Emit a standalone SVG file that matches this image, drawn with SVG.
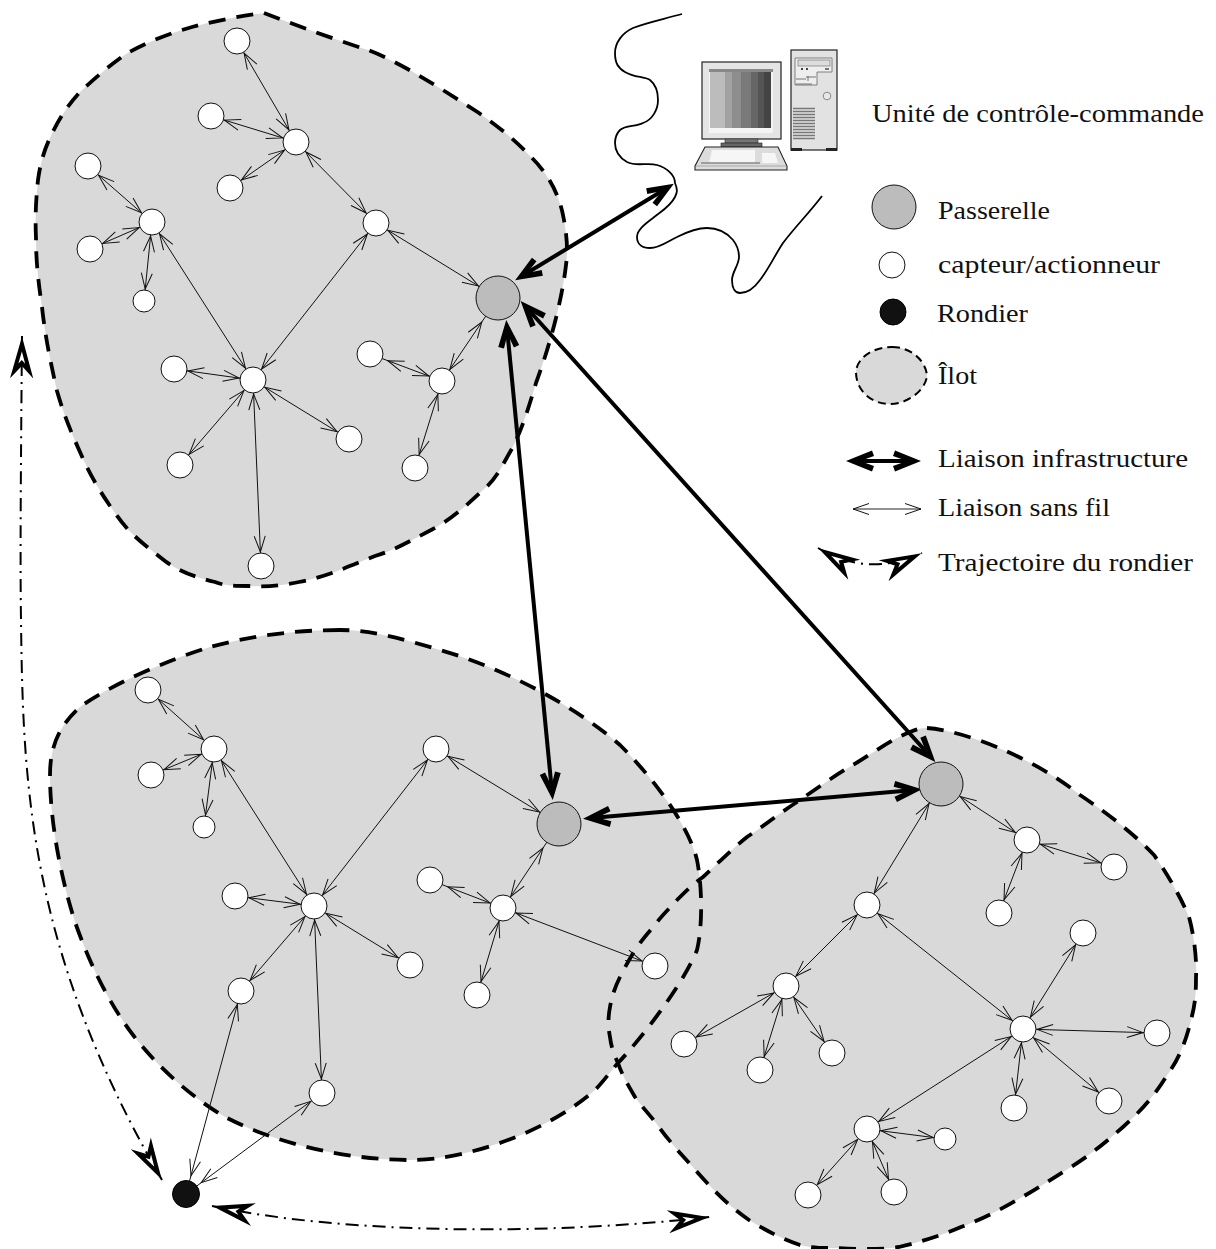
<svg xmlns="http://www.w3.org/2000/svg" width="1216" height="1249" viewBox="0 0 1216 1249">
<style>
text{font-family:"Liberation Serif","DejaVu Serif",serif;font-size:25px;fill:#111}
.isl{fill:#d9d9d9;stroke:none}
.dash{fill:none;stroke:#000;stroke-width:3.8;stroke-dasharray:17 11}
.n{fill:#fff;stroke:#111;stroke-width:1}
.gw{fill:#bcbcbc;stroke:#111;stroke-width:1}
.w{stroke:#111;stroke-width:1;fill:none;marker-start:url(#w13);marker-end:url(#w13)}
.e11{marker-end:url(#w11)}
.e22{marker-end:url(#w22)}
.e29{marker-end:url(#w29)}
.s22{marker-start:url(#w22)}
.s18{marker-start:url(#w18)}
.s14{marker-start:url(#w14)}
.t{stroke:#000;stroke-width:4;fill:none;marker-start:url(#th);marker-end:url(#th)}
.tr{stroke:#000;stroke-width:2;fill:none;stroke-dasharray:13 6 2 6;marker-start:url(#hollow);marker-end:url(#hollow)}
.vp{fill:none;stroke:#111;stroke-width:1}
.thp{fill:#000;stroke:none}
.hp{fill:#fff;stroke:#000;stroke-width:4;stroke-linejoin:miter;stroke-miterlimit:10}
</style>
<defs>
<marker id="w11" markerUnits="userSpaceOnUse" orient="auto-start-reverse" refX="12" refY="0" markerWidth="1" markerHeight="1" overflow="visible"><path class="vp" d="M-16,-5.5L0,0L-16,5.5"/></marker>
<marker id="w13" markerUnits="userSpaceOnUse" orient="auto-start-reverse" refX="14" refY="0" markerWidth="1" markerHeight="1" overflow="visible"><path class="vp" d="M-16,-5.5L0,0L-16,5.5"/></marker>
<marker id="w14" markerUnits="userSpaceOnUse" orient="auto-start-reverse" refX="19" refY="0" markerWidth="1" markerHeight="1" overflow="visible"><path class="vp" d="M-16,-5.5L0,0L-16,5.5"/></marker>
<marker id="w18" markerUnits="userSpaceOnUse" orient="auto-start-reverse" refX="19" refY="0" markerWidth="1" markerHeight="1" overflow="visible"><path class="vp" d="M-16,-5.5L0,0L-16,5.5"/></marker>
<marker id="w22" markerUnits="userSpaceOnUse" orient="auto-start-reverse" refX="23" refY="0" markerWidth="1" markerHeight="1" overflow="visible"><path class="vp" d="M-16,-5.5L0,0L-16,5.5"/></marker>
<marker id="w29" markerUnits="userSpaceOnUse" orient="auto-start-reverse" refX="29" refY="0" markerWidth="1" markerHeight="1" overflow="visible"><path class="vp" d="M-16,-5.5L0,0L-16,5.5"/></marker>
<marker id="w0" markerUnits="userSpaceOnUse" orient="auto-start-reverse" refX="0" refY="0" markerWidth="1" markerHeight="1" overflow="visible"><path class="vp" d="M-16,-5.5L0,0L-16,5.5"/></marker>
<marker id="th" markerUnits="userSpaceOnUse" orient="auto-start-reverse" refX="-8" refY="0" markerWidth="1" markerHeight="1" overflow="visible"><path class="thp" d="M0,0L-26,-10.500L-28,-5L-14,0L-28,5L-26,10.500Z"/></marker>
<marker id="hollow" markerUnits="userSpaceOnUse" orient="auto-start-reverse" refX="0" refY="0" markerWidth="1" markerHeight="1" overflow="visible"><path class="hp" d="M-8,0L-35,-7.500L-27,0L-35,7.500Z"/></marker>
</defs>
<g id="islands">
<path class="isl" d="M264,13C285,21 330,38 368,50C400,62 440,88 479,113C500,128 515,140 529,155C545,170 558,190 563,215C567,235 568,250 566,265C562,300 550,345 536,383C528,410 520,435 510,452C500,470 495,480 483,490C465,507 450,520 433,529C410,541 395,550 375,556C345,568 325,577 299,582C280,586 265,587 249,586C235,586 225,586 215,582C195,577 180,572 165,561C145,545 130,535 115,513C100,492 90,475 80,452C70,430 63,412 57,391C50,360 45,335 42,307C38,280 36,260 36,238C35,215 36,200 38,180C40,165 44,150 50,138C58,120 68,105 80,92C95,78 110,65 126,54C145,43 170,33 192,27C215,21 240,16 264,13Z"/>
<path class="isl" d="M340,630C295,630 250,636 210,647C170,659 110,685 80,707C60,725 50,745 50,775C50,820 60,875 75,922C90,965 110,1005 133,1035C160,1070 195,1100 227,1118C280,1145 350,1160 410,1160C470,1160 550,1130 595,1090C603,1082 610,1072 618,1063C640,1040 683,985 697,950C703,925 702,885 697,860C690,830 660,785 620,745C580,710 510,670 440,650C400,638 370,630 340,630Z"/>
<path class="isl" d="M927,728C960,730 1030,755 1080,795C1110,815 1135,835 1154,855C1170,878 1182,900 1189,917C1194,935 1197,960 1196,977C1196,995 1195,1005 1191,1020C1185,1045 1178,1060 1166,1077C1155,1095 1140,1112 1123,1127C1105,1143 1090,1155 1071,1167C1050,1180 1035,1190 1017,1200C1000,1210 980,1220 961,1227C940,1236 920,1242 899,1247C880,1250 855,1249 836,1248C822,1248 812,1248 800,1245C780,1238 765,1230 749,1220C730,1207 715,1192 698,1173C685,1158 672,1145 659,1127C650,1115 642,1107 635,1097C628,1085 622,1075 618,1063C614,1055 611,1046 610,1037C608,1027 608,1017 610,1007C612,996 615,987 620,977C625,967 629,960 635,950C642,940 648,933 655,925C662,915 670,908 677,900C685,892 692,885 703,877C715,866 732,849 747,837C765,825 780,813 797,802C815,790 835,775 853,765C870,755 890,740 910,732C915,730 920,728 927,728Z"/>
<path class="dash" d="M264,13C285,21 330,38 368,50C400,62 440,88 479,113C500,128 515,140 529,155C545,170 558,190 563,215C567,235 568,250 566,265C562,300 550,345 536,383C528,410 520,435 510,452C500,470 495,480 483,490C465,507 450,520 433,529C410,541 395,550 375,556C345,568 325,577 299,582C280,586 265,587 249,586C235,586 225,586 215,582C195,577 180,572 165,561C145,545 130,535 115,513C100,492 90,475 80,452C70,430 63,412 57,391C50,360 45,335 42,307C38,280 36,260 36,238C35,215 36,200 38,180C40,165 44,150 50,138C58,120 68,105 80,92C95,78 110,65 126,54C145,43 170,33 192,27C215,21 240,16 264,13Z"/>
<path class="dash" d="M340,630C295,630 250,636 210,647C170,659 110,685 80,707C60,725 50,745 50,775C50,820 60,875 75,922C90,965 110,1005 133,1035C160,1070 195,1100 227,1118C280,1145 350,1160 410,1160C470,1160 550,1130 595,1090C603,1082 610,1072 618,1063C640,1040 683,985 697,950C703,925 702,885 697,860C690,830 660,785 620,745C580,710 510,670 440,650C400,638 370,630 340,630Z"/>
<path class="dash" d="M927,728C960,730 1030,755 1080,795C1110,815 1135,835 1154,855C1170,878 1182,900 1189,917C1194,935 1197,960 1196,977C1196,995 1195,1005 1191,1020C1185,1045 1178,1060 1166,1077C1155,1095 1140,1112 1123,1127C1105,1143 1090,1155 1071,1167C1050,1180 1035,1190 1017,1200C1000,1210 980,1220 961,1227C940,1236 920,1242 899,1247C880,1250 855,1249 836,1248C822,1248 812,1248 800,1245C780,1238 765,1230 749,1220C730,1207 715,1192 698,1173C685,1158 672,1145 659,1127C650,1115 642,1107 635,1097C628,1085 622,1075 618,1063C614,1055 611,1046 610,1037C608,1027 608,1017 610,1007C612,996 615,987 620,977C625,967 629,960 635,950C642,940 648,933 655,925C662,915 670,908 677,900C685,892 692,885 703,877C715,866 732,849 747,837C765,825 780,813 797,802C815,790 835,775 853,765C870,755 890,740 910,732C915,730 920,728 927,728Z"/>
</g>
<g id="wave-network"><path fill="none" stroke="#000" stroke-width="1.8" d="M682,14C660,20 645,23 633,28C622,33 615,43 615,53C615,63 618,68 625,72C635,78 643,76 650,80C655,84 658,92 658,100C658,110 652,120 643,123C635,127 626,125 620,130C616,134 615,138 615,143C615,152 620,158 627,162C637,167 647,162 657,165C667,168 675,175 675,183C678,190 677,193 675,197C670,207 660,212 653,218C645,224 637,230 637,237C637,245 643,248 650,248C660,248 668,241 677,237C687,232 697,228 707,228C718,228 727,233 733,240C737,245 739,250 739,257C739,265 732,272 732,280C732,288 735,293 740,293C748,293 755,287 760,280C768,270 775,255 783,243C795,227 810,212 822,196"/></g>
<g id="connectors">
<line class="w" x1="237" y1="41" x2="296" y2="142"/>
<line class="w" x1="211" y1="116" x2="296" y2="142"/>
<line class="w" x1="230" y1="188" x2="296" y2="142"/>
<line class="w" x1="296" y1="142" x2="376" y2="223"/>
<line class="w e22" x1="376" y1="223" x2="498" y2="298"/>
<line class="w" x1="88" y1="166" x2="152" y2="222"/>
<line class="w" x1="90" y1="249" x2="152" y2="222"/>
<line class="w e11" x1="152" y1="222" x2="144" y2="301"/>
<line class="w" x1="152" y1="222" x2="253" y2="380"/>
<line class="w" x1="376" y1="223" x2="253" y2="380"/>
<line class="w" x1="174" y1="369" x2="253" y2="380"/>
<line class="w" x1="180" y1="465" x2="253" y2="380"/>
<line class="w" x1="349" y1="439" x2="253" y2="380"/>
<line class="w" x1="261" y1="566" x2="253" y2="380"/>
<line class="w s18" x1="370" y1="354" x2="442" y2="381"/>
<line class="w" x1="415" y1="468" x2="442" y2="381"/>
<line class="w e29" x1="442" y1="381" x2="498" y2="298"/>
<line class="w" x1="148" y1="690" x2="214" y2="749"/>
<line class="w" x1="151" y1="775" x2="214" y2="749"/>
<line class="w e11" x1="214" y1="749" x2="204" y2="827"/>
<line class="w" x1="214" y1="749" x2="314" y2="906"/>
<line class="w" x1="436" y1="749" x2="314" y2="906"/>
<line class="w e22" x1="436" y1="749" x2="559" y2="824"/>
<line class="w" x1="235" y1="896" x2="314" y2="906"/>
<line class="w" x1="241" y1="991" x2="314" y2="906"/>
<line class="w" x1="410" y1="965" x2="314" y2="906"/>
<line class="w" x1="322" y1="1093" x2="314" y2="906"/>
<line class="w s18" x1="430" y1="880" x2="503" y2="908"/>
<line class="w" x1="477" y1="995" x2="503" y2="908"/>
<line class="w e29" x1="503" y1="908" x2="559" y2="824"/>
<line class="w" x1="503" y1="908" x2="655" y2="966"/>
<line class="w s14" x1="186" y1="1194" x2="241" y2="991"/>
<line class="w s14" x1="186" y1="1194" x2="322" y2="1093"/>
<line class="w s22" x1="941" y1="784" x2="1027" y2="840"/>
<line class="w" x1="1027" y1="840" x2="1114" y2="867"/>
<line class="w" x1="1027" y1="840" x2="999" y2="913"/>
<line class="w s22" x1="941" y1="784" x2="867" y2="905"/>
<line class="w" x1="867" y1="905" x2="786" y2="986"/>
<line class="w" x1="867" y1="905" x2="1023" y2="1029"/>
<line class="w" x1="786" y1="986" x2="684" y2="1044"/>
<line class="w" x1="786" y1="986" x2="760" y2="1070"/>
<line class="w" x1="786" y1="986" x2="832" y2="1053"/>
<line class="w" x1="1023" y1="1029" x2="1083" y2="933"/>
<line class="w" x1="1023" y1="1029" x2="1157" y2="1033"/>
<line class="w" x1="1023" y1="1029" x2="1109" y2="1101"/>
<line class="w" x1="1023" y1="1029" x2="1014" y2="1108"/>
<line class="w" x1="1023" y1="1029" x2="867" y2="1129"/>
<line class="w e11" x1="867" y1="1129" x2="945" y2="1139"/>
<line class="w" x1="867" y1="1129" x2="808" y2="1195"/>
<line class="w" x1="867" y1="1129" x2="894" y2="1192"/>
<line class="t" x1="522" y1="276" x2="667" y2="188"/>
<line class="t" x1="507" y1="328" x2="552" y2="792"/>
<line class="t" x1="526" y1="307" x2="930" y2="756"/>
<line class="t" x1="591" y1="818" x2="914" y2="790"/>
<path class="tr" d="M22,336C21,450 20,560 21,620C23,784 28,949 162,1180"/>
<path class="tr" d="M212,1206C350,1235 550,1235 710,1217"/>
</g>
<g id="nodes-ilot-1">
<g id="n1"><circle class="n" cx="237" cy="41" r="13"/></g>
<g id="n2"><circle class="n" cx="296" cy="142" r="13"/></g>
<g id="n3"><circle class="n" cx="211" cy="116" r="13"/></g>
<g id="n4"><circle class="n" cx="230" cy="188" r="13"/></g>
<g id="n5"><circle class="n" cx="376" cy="223" r="13"/></g>
<g id="n6"><circle class="n" cx="152" cy="222" r="13"/></g>
<g id="n7"><circle class="n" cx="88" cy="166" r="13"/></g>
<g id="n8"><circle class="n" cx="90" cy="249" r="13"/></g>
<g id="n9"><circle class="n" cx="144" cy="301" r="11"/></g>
<g id="n10"><circle class="n" cx="253" cy="380" r="13"/></g>
<g id="n11"><circle class="n" cx="174" cy="369" r="13"/></g>
<g id="n12"><circle class="n" cx="180" cy="465" r="13"/></g>
<g id="n13"><circle class="n" cx="349" cy="439" r="13"/></g>
<g id="n14"><circle class="n" cx="261" cy="566" r="13"/></g>
<g id="n15"><circle class="n" cx="442" cy="381" r="13"/></g>
<g id="n16"><circle class="n" cx="370" cy="354" r="13"/></g>
<g id="n17"><circle class="n" cx="415" cy="468" r="13"/></g>
<g id="g1"><circle class="gw" cx="498" cy="298" r="22"/></g>
</g>
<g id="nodes-ilot-2">
<g id="m1"><circle class="n" cx="148" cy="690" r="13"/></g>
<g id="m2"><circle class="n" cx="214" cy="749" r="13"/></g>
<g id="m3"><circle class="n" cx="151" cy="775" r="13"/></g>
<g id="m4"><circle class="n" cx="204" cy="827" r="11"/></g>
<g id="m5"><circle class="n" cx="436" cy="749" r="13"/></g>
<g id="m6"><circle class="n" cx="314" cy="906" r="13"/></g>
<g id="m7"><circle class="n" cx="235" cy="896" r="13"/></g>
<g id="m8"><circle class="n" cx="241" cy="991" r="13"/></g>
<g id="m9"><circle class="n" cx="410" cy="965" r="13"/></g>
<g id="m10"><circle class="n" cx="322" cy="1093" r="13"/></g>
<g id="m11"><circle class="n" cx="503" cy="908" r="13"/></g>
<g id="m12"><circle class="n" cx="430" cy="880" r="13"/></g>
<g id="m13"><circle class="n" cx="477" cy="995" r="13"/></g>
<g id="m14"><circle class="n" cx="655" cy="966" r="13"/></g>
<g id="g2"><circle class="gw" cx="559" cy="824" r="22"/></g>
</g>
<g id="nodes-ilot-3">
<g id="k1"><circle class="n" cx="1027" cy="840" r="13"/></g>
<g id="k2"><circle class="n" cx="1114" cy="867" r="13"/></g>
<g id="k3"><circle class="n" cx="999" cy="913" r="13"/></g>
<g id="k4"><circle class="n" cx="867" cy="905" r="13"/></g>
<g id="k5"><circle class="n" cx="786" cy="986" r="13"/></g>
<g id="k6"><circle class="n" cx="684" cy="1044" r="13"/></g>
<g id="k7"><circle class="n" cx="760" cy="1070" r="13"/></g>
<g id="k8"><circle class="n" cx="832" cy="1053" r="13"/></g>
<g id="k9"><circle class="n" cx="1023" cy="1029" r="13"/></g>
<g id="k10"><circle class="n" cx="1083" cy="933" r="13"/></g>
<g id="k11"><circle class="n" cx="1157" cy="1033" r="13"/></g>
<g id="k12"><circle class="n" cx="1109" cy="1101" r="13"/></g>
<g id="k13"><circle class="n" cx="1014" cy="1108" r="13"/></g>
<g id="k14"><circle class="n" cx="867" cy="1129" r="13"/></g>
<g id="k15"><circle class="n" cx="945" cy="1139" r="11"/></g>
<g id="k16"><circle class="n" cx="808" cy="1195" r="13"/></g>
<g id="k17"><circle class="n" cx="894" cy="1192" r="13"/></g>
<g id="g3"><circle class="gw" cx="941" cy="784" r="22"/></g>
</g>
<g id="rondier"><circle cx="186" cy="1194" r="13.500" fill="#111" stroke="#000"/></g>
<g id="computer">
<rect x="791" y="50" width="46" height="100" fill="#e2e2e2" stroke="#222" stroke-width="1.200"/>
<rect x="791" y="148" width="11" height="3" fill="#222"/><rect x="826" y="148" width="11" height="3" fill="#222"/>
<path d="M795,58H832V72H817V85H795Z" fill="#eee" stroke="#666" stroke-width=".8"/>
<rect x="798" y="60" width="32" height="6" fill="#ddd" stroke="#777" stroke-width=".7"/>
<path d="M796,79H806M796,84H812M808,76V81M806,77H816" stroke="#555" stroke-width=".8" fill="none"/>
<rect x="801" y="68" width="2" height="2" fill="#444"/><rect x="806" y="68" width="2" height="2" fill="#444"/><rect x="825" y="68" width="4" height="2" fill="#777"/>
<circle cx="827" cy="96" r="3.800" fill="#e8e8e8" stroke="#888"/>
<path d="M793,108.500H815M793,111.500H815M793,114.500H815M793,117.500H815M793,120.500H815M793,123.500H815M793,126.500H815M793,129.500H815M793,132.500H815M793,135.500H815M793,138.500H815" stroke="#777" stroke-width="1.600" fill="none"/>
<rect x="702" y="62" width="79" height="77" fill="#e4e4e4" stroke="#222" stroke-width="1.200"/>
<rect x="709" y="69" width="64" height="64" fill="#f4f4f4"/>
<rect x="709" y="69" width="64" height="3" fill="#888"/>
<rect x="710" y="72" width="15" height="56" fill="#bcbcbc"/>
<rect x="725" y="72" width="7" height="56" fill="#a2a2a2"/>
<rect x="732" y="72" width="9" height="56" fill="#8e8e8e"/>
<rect x="741" y="72" width="10" height="56" fill="#7a7a7a"/>
<rect x="751" y="72" width="7" height="56" fill="#666"/>
<rect x="758" y="72" width="6" height="56" fill="#545454"/>
<rect x="764" y="72" width="7" height="56" fill="#444"/>
<rect x="725" y="139" width="33" height="4" fill="#777" stroke="#333" stroke-width=".6"/>
<rect x="721" y="143" width="41" height="4" fill="#666" stroke="#222" stroke-width=".6"/>
<path d="M705,147H778L787,166V170H695V166Z" fill="#dcdcdc" stroke="#222" stroke-width="1.100"/>
<path d="M712,150H755V163H709Z" fill="#f6f6f6"/>
<path d="M762,153H775L778,163H762Z" fill="#f6f6f6"/>
<path d="M701,163H760" stroke="#888" stroke-width="1.400"/>
<path d="M696,166H786" stroke="#aaa" stroke-width="1"/>
</g>
<text id="unit-label" x="872" y="122" textLength="332" lengthAdjust="spacingAndGlyphs">Unité de contrôle-commande</text>
<g id="legend-passerelle"><circle class="gw" cx="894" cy="207" r="22"/><text x="938" y="219" textLength="112" lengthAdjust="spacingAndGlyphs">Passerelle</text></g>
<g id="legend-capteur"><circle class="n" cx="892" cy="265" r="13"/><text x="938" y="273" textLength="222" lengthAdjust="spacingAndGlyphs">capteur/actionneur</text></g>
<g id="legend-rondier"><circle cx="893" cy="312" r="13" fill="#111" stroke="#000"/><text x="937" y="322" textLength="91" lengthAdjust="spacingAndGlyphs">Rondier</text></g>
<g id="legend-ilot"><path d="M892,347C910,347 926,360 927,376C925,392 905,405 888,404C870,403 856,390 856,372C857,357 874,347 892,347Z" fill="#d9d9d9" stroke="#000" stroke-width="2" stroke-dasharray="8 5"/><text x="938" y="384" textLength="39" lengthAdjust="spacingAndGlyphs">Îlot</text></g>
<g id="legend-infra"><line class="t" x1="854" y1="461" x2="913" y2="461"/><text x="938" y="467" textLength="250" lengthAdjust="spacingAndGlyphs">Liaison infrastructure</text></g>
<g id="legend-sansfil"><line x1="853" y1="509" x2="921" y2="509" stroke="#222" stroke-width="1" marker-start="url(#w0)" marker-end="url(#w0)"/><text x="938" y="516" textLength="172" lengthAdjust="spacingAndGlyphs">Liaison sans fil</text></g>
<g id="legend-trajet"><path class="tr" d="M818,548Q868,578 922,553"/><text x="938" y="571" textLength="255" lengthAdjust="spacingAndGlyphs">Trajectoire du rondier</text></g>
</svg>
